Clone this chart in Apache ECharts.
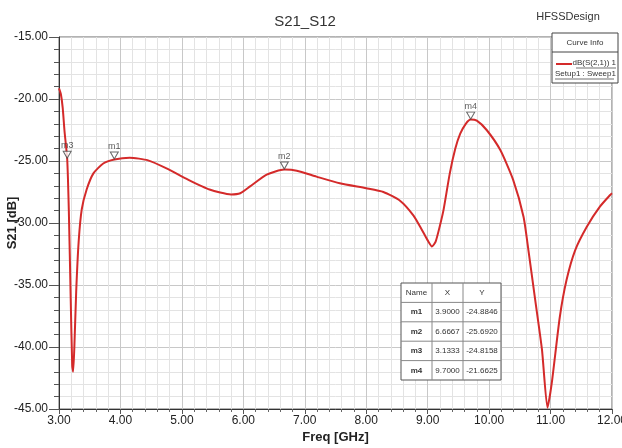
<!DOCTYPE html>
<html><head><meta charset="utf-8">
<script src="https://cdn.jsdelivr.net/npm/echarts@6/dist/echarts.min.js"></script>
<style>html,body{margin:0;padding:0;background:#fff}#c{width:622px;height:448px}</style>
</head><body><div id="c"></div>
<script>
const freq = [3.00,3.03,3.06,3.09,3.1333,3.16,3.19,3.215,3.23,3.25,3.28,3.32,3.37,3.45,3.56,3.72,3.90,4.15,4.45,4.75,5.10,5.45,5.80,5.95,6.11,6.38,6.6667,6.87,7.19,7.57,8.00,8.28,8.55,8.77,8.90,9.00,9.07,9.13,9.20,9.26,9.36,9.45,9.53,9.62,9.70,9.80,9.96,10.18,10.39,10.56,10.64,10.75,10.86,10.95,11.02,11.15,11.26,11.40,11.59,11.80,11.97,12.00];
const s21 = [-19.15,-19.6,-20.7,-22.6,-24.82,-29.0,-36.0,-41.5,-42.0,-40.0,-35.5,-31.5,-28.9,-27.3,-26.0,-25.2,-24.88,-24.73,-24.95,-25.6,-26.5,-27.3,-27.7,-27.6,-27.05,-26.1,-25.69,-25.78,-26.26,-26.8,-27.2,-27.5,-28.2,-29.4,-30.5,-31.4,-31.9,-31.5,-30.2,-28.9,-26.0,-24.0,-22.8,-22.0,-21.66,-21.75,-22.5,-24.1,-26.5,-29.5,-32.2,-36.2,-40.2,-44.9,-42.9,-37.6,-34.6,-32.2,-30.3,-28.7,-27.74,-27.6];
const markerNames = ['m1','m2','m3','m4'];
const markerX = [3.9000, 6.6667, 3.1333, 9.7000];
const markerY = [-24.8846, -25.6920, -24.8158, -21.6625];
const xTicks = [3,4,5,6,7,8,9,10,11,12];
const yTicks = [-15,-20,-25,-30,-35,-40,-45];

const FONT = '"Liberation Sans Narrow","Liberation Sans",Arial,sans-serif';
const chart = echarts.init(document.getElementById('c'), null, {renderer:'canvas'});

const tX = 401, tY = 283, colW = [31, 31, 38], rowH = 19.4;
const table = [];
const tw = colW[0]+colW[1]+colW[2];
table.push({type:'rect', shape:{x:tX,y:tY,width:tw,height:rowH*5}, style:{fill:'#fff',stroke:'#555',lineWidth:1}, z:100});
for (let r=1;r<5;r++) table.push({type:'line', shape:{x1:tX,y1:tY+r*rowH,x2:tX+tw,y2:tY+r*rowH}, style:{stroke:'#888',lineWidth:1}, z:101});
table.push({type:'line', shape:{x1:tX+colW[0],y1:tY,x2:tX+colW[0],y2:tY+5*rowH}, style:{stroke:'#888',lineWidth:1}, z:101});
table.push({type:'line', shape:{x1:tX+colW[0]+colW[1],y1:tY,x2:tX+colW[0]+colW[1],y2:tY+5*rowH}, style:{stroke:'#888',lineWidth:1}, z:101});
const header = ['Name','X','Y'];
const cx = [tX+colW[0]/2, tX+colW[0]+colW[1]/2, tX+colW[0]+colW[1]+colW[2]/2];
header.forEach((h,i)=>table.push({type:'text', x:cx[i], y:tY+rowH/2, style:{text:h, font:'8px '+FONT, fill:'#333', align:'center', verticalAlign:'middle'}, z:102}));
markerNames.forEach((n,r)=>{
  const yy = tY+(r+1)*rowH+rowH/2;
  table.push({type:'text', x:cx[0], y:yy, style:{text:n, font:'bold 8px '+FONT, fill:'#333', align:'center', verticalAlign:'middle'}, z:102});
  table.push({type:'text', x:cx[1], y:yy, style:{text:markerX[r].toFixed(4), font:'8px '+FONT, fill:'#333', align:'center', verticalAlign:'middle'}, z:102});
  table.push({type:'text', x:cx[2], y:yy, style:{text:markerY[r].toFixed(4), font:'8px '+FONT, fill:'#333', align:'center', verticalAlign:'middle'}, z:102});
});

const legend = [
  {type:'rect', shape:{x:552,y:33,width:66,height:50}, style:{fill:'#fff',stroke:'#444',lineWidth:1}, z:100},
  {type:'line', shape:{x1:552,y1:52,x2:618,y2:52}, style:{stroke:'#444',lineWidth:1}, z:101},
  {type:'text', x:585, y:43, style:{text:'Curve Info', font:'8px '+FONT, fill:'#333', align:'center', verticalAlign:'middle'}, z:102},
  {type:'line', shape:{x1:556,y1:64,x2:572,y2:64}, style:{stroke:'#d42a2a',lineWidth:2}, z:102},
  {type:'text', x:616, y:63, style:{text:'dB(S(2,1)) 1', font:'8px '+FONT, fill:'#333', align:'right', verticalAlign:'middle'}, z:102},
  {type:'line', shape:{x1:576,y1:68,x2:616,y2:68}, style:{stroke:'#333',lineWidth:0.7}, z:102},
  {type:'text', x:555, y:74, style:{text:'Setup1 : Sweep1', font:'8px '+FONT, fill:'#333', align:'left', verticalAlign:'middle'}, z:102},
  {type:'line', shape:{x1:555,y1:79,x2:614,y2:79}, style:{stroke:'#333',lineWidth:0.7}, z:102},
  {type:'text', x:568, y:17, style:{text:'HFSSDesign', font:'11px '+FONT, fill:'#333', align:'center', verticalAlign:'middle'}, z:102}
];

chart.setOption({
  animation:false,
  backgroundColor:'#fff',
  title:{text:'S21_S12', left:300, top:9, textAlign:'center', textStyle:{fontFamily:FONT, fontSize:15, fontWeight:'normal', color:'#333'}},
  grid:{left:59, top:37, right:10, bottom:39, show:true, borderColor:'#666', borderWidth:1, containLabel:false, outerBoundsMode:'none'},
  xAxis:{type:'value', min:3, max:12, interval:1,
    name:'Freq [GHz]', nameLocation:'middle', nameGap:22, nameMoveOverlap:false,
    nameTextStyle:{fontFamily:FONT, fontSize:13, fontWeight:'bold', color:'#222'},
    axisLine:{show:true, lineStyle:{color:'#333'}},
    axisTick:{show:true, length:5, inside:false, lineStyle:{color:'#555'}},
    minorTick:{show:true, splitNumber:5, length:3, lineStyle:{color:'#666'}},
    axisLabel:{formatter:v=>xTicks.includes(v)?v.toFixed(2):'', fontFamily:FONT, fontSize:12, color:'#222', margin:6},
    splitLine:{show:true, lineStyle:{color:'#c8c8c8', width:1}},
    minorSplitLine:{show:true, lineStyle:{color:'#e3e3e3', width:1}}
  },
  yAxis:{type:'value', min:-45, max:-15, interval:5,
    name:'S21 [dB]', nameLocation:'middle', nameGap:40, nameRotate:90, nameMoveOverlap:false,
    nameTextStyle:{fontFamily:FONT, fontSize:13, fontWeight:'bold', color:'#222'},
    axisLine:{show:true, lineStyle:{color:'#333'}},
    axisTick:{show:true, length:10, lineStyle:{color:'#555'}},
    minorTick:{show:true, splitNumber:5, length:5, lineStyle:{color:'#555'}},
    axisLabel:{formatter:v=>yTicks.includes(v)?v.toFixed(2):'', fontFamily:FONT, fontSize:12, color:'#222', margin:11},
    splitLine:{show:true, lineStyle:{color:'#c8c8c8', width:1}},
    minorSplitLine:{show:true, lineStyle:{color:'#e3e3e3', width:1}}
  },
  series:[
    {type:'line', data:freq.map((f,i)=>[f,s21[i]]), showSymbol:false, smooth:0.2,
     lineStyle:{color:'#d42a2a', width:2}, z:5},
    {type:'scatter', data:markerX.map((x,i)=>({value:[x,markerY[i]], name:markerNames[i]})),
     symbol:'triangle', symbolRotate:180, symbolSize:[8,7], symbolOffset:[0,-4],
     itemStyle:{color:'#fff', borderColor:'#444', borderWidth:1},
     label:{show:true, position:'top', distance:1, formatter:p=>p.name, fontFamily:FONT, fontSize:9, color:'#333'}, z:6}
  ],
  graphic:[...table, ...legend]
});
</script></body></html>
